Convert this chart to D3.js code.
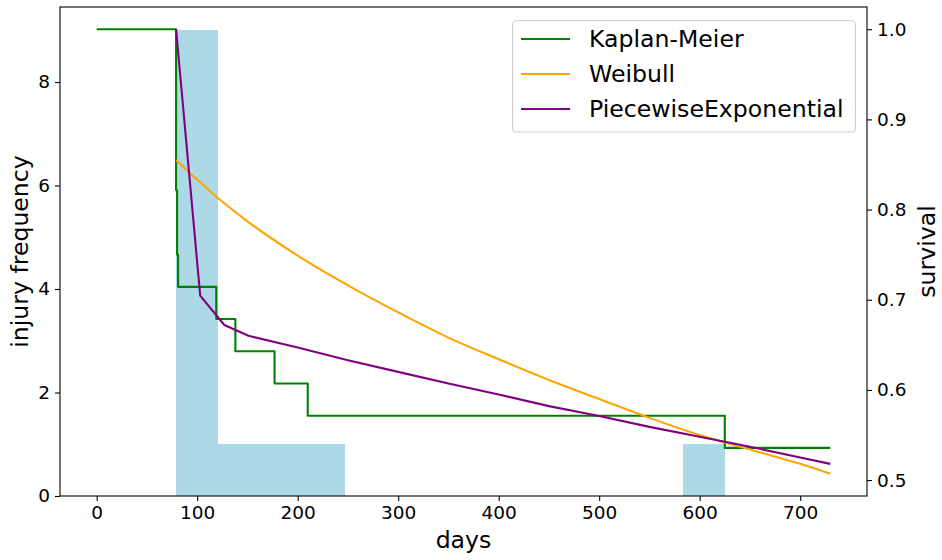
<!DOCTYPE html>
<html>
<head>
<meta charset="utf-8">
<script src="https://cdn.jsdelivr.net/npm/d3@7"></script>
<style>
  html, body { margin: 0; padding: 0; background: #fff; }
  svg { display: block; font-family: "DejaVu Sans", sans-serif; }
</style>
</head>
<body>
<svg id="chart" width="942" height="560"></svg>
<script>
// Injury histogram: bin edges (days) and counts per bin
const binEdges = [79, 121, 163, 205, 247, 289, 331, 373, 415, 457, 499, 541, 583, 625];
const binCounts = [9, 1, 1, 1, 0, 0, 0, 0, 0, 0, 0, 0, 1];

// Kaplan-Meier survival estimate (step function)
const kmDays = [0, 79, 80, 81, 119, 138, 177, 210, 625, 730];
const kmSurvival = [1.0, 0.8214, 0.75, 0.7143, 0.6786, 0.6429, 0.6071, 0.5714, 0.5357, 0.5357];

// Weibull model survival
const weibullDays = [79, 100, 121, 150, 200, 250, 300, 350, 400, 450, 500, 550, 600, 650, 700, 730];
const weibullSurvival = [0.855, 0.833, 0.8125, 0.787, 0.749, 0.716, 0.686, 0.658, 0.634, 0.611, 0.590, 0.569, 0.550, 0.534, 0.518, 0.507];

// Piecewise exponential model survival
const pweDays = [79, 103, 127, 151, 200, 250, 300, 350, 400, 450, 500, 550, 600, 650, 700, 730];
const pweSurvival = [1.0, 0.7045, 0.672, 0.660, 0.647, 0.633, 0.620, 0.607, 0.595, 0.582, 0.571, 0.559, 0.548, 0.537, 0.525, 0.518];

// Tick values
const xTicks = [0, 100, 200, 300, 400, 500, 600, 700];
const leftTicks = [0, 2, 4, 6, 8];
const rightTicks = [0.5, 0.6, 0.7, 0.8, 0.9, 1.0];

const series = [
  { name: "Kaplan-Meier", days: kmDays, values: kmSurvival, color: "green", curve: d3.curveStepAfter },
  { name: "Weibull", days: weibullDays, values: weibullSurvival, color: "orange", curve: d3.curveMonotoneX },
  { name: "PiecewiseExponential", days: pweDays, values: pweSurvival, color: "purple", curve: d3.curveLinear }
];

const plot = { left: 60, right: 867, top: 7, bottom: 496 };
const svg = d3.select("#chart");

// Padded domains (5% margin on each side)
function padded(lo, hi, f) { const r = hi - lo; return [lo - r * f, hi + r * f]; }
const allDays = [...kmDays, ...weibullDays, ...pweDays];
const allSurv = [...kmSurvival, ...weibullSurvival, ...pweSurvival];

const x = d3.scaleLinear()
  .domain(padded(d3.min(allDays), d3.max(allDays), 0.05))
  .range([plot.left, plot.right]);
const yLeft = d3.scaleLinear()
  .domain([0, d3.max(binCounts) * 1.05])
  .range([plot.bottom, plot.top]);
const yRight = d3.scaleLinear()
  .domain(padded(d3.min(allSurv), d3.max(allSurv), 0.05))
  .range([plot.bottom, plot.top]);

// Histogram bars
const bins = binCounts.map((c, i) => ({ x0: binEdges[i], x1: binEdges[i + 1], count: c }));
svg.append("g").selectAll("rect")
  .data(bins.filter(b => b.count > 0))
  .join("rect")
  .attr("x", d => x(d.x0))
  .attr("width", d => x(d.x1) - x(d.x0))
  .attr("y", d => yLeft(d.count))
  .attr("height", d => yLeft(0) - yLeft(d.count))
  .attr("fill", "#add8e6")
  .attr("shape-rendering", "crispEdges");

// Survival curves
const lines = svg.append("g");
series.forEach(s => {
  const pts = s.days.map((d, i) => [d, s.values[i]]);
  const gen = d3.line().x(p => x(p[0])).y(p => yRight(p[1])).curve(s.curve);
  lines.append("path")
    .attr("d", gen(pts))
    .attr("fill", "none")
    .attr("stroke", s.color)
    .attr("stroke-width", 2.1)
    .attr("stroke-linejoin", "round");
});

// Axes
const tickFont = "18.5px";
function styleAxis(g) {
  g.select(".domain").remove();
  g.selectAll(".tick line").attr("stroke", "#000").attr("stroke-width", 1.1);
  g.selectAll(".tick text").attr("fill", "#000").style("font-size", tickFont)
    .style("font-family", "DejaVu Sans, sans-serif");
}
svg.append("g")
  .attr("transform", `translate(0,${plot.bottom})`)
  .call(d3.axisBottom(x).tickValues(xTicks).tickSize(5).tickPadding(5).tickSizeOuter(0))
  .call(styleAxis);
svg.append("g")
  .attr("transform", `translate(${plot.left},0)`)
  .call(d3.axisLeft(yLeft).tickValues(leftTicks).tickSize(5).tickPadding(5).tickSizeOuter(0))
  .call(styleAxis);
svg.append("g")
  .attr("transform", `translate(${plot.right},0)`)
  .call(d3.axisRight(yRight).tickValues(rightTicks).tickFormat(d3.format(".1f")).tickSize(5).tickPadding(5).tickSizeOuter(0))
  .call(styleAxis);

// Frame
svg.append("rect")
  .attr("x", plot.left).attr("y", plot.top)
  .attr("width", plot.right - plot.left).attr("height", plot.bottom - plot.top)
  .attr("fill", "none").attr("stroke", "#000").attr("stroke-width", 1.1);

// Axis titles
const labelFont = "23.6px";
const midY = (plot.top + plot.bottom) / 2;
svg.append("text")
  .attr("x", (plot.left + plot.right) / 2).attr("y", 548)
  .attr("text-anchor", "middle").style("font-size", labelFont)
  .text("days");
svg.append("text")
  .attr("transform", `translate(28,${midY}) rotate(-90)`)
  .attr("text-anchor", "middle").style("font-size", labelFont)
  .text("injury frequency");
svg.append("text")
  .attr("transform", `translate(935,${midY}) rotate(-90)`)
  .attr("text-anchor", "middle").style("font-size", labelFont)
  .text("survival");

// Legend
const legend = svg.append("g");
legend.append("rect")
  .attr("x", 512.5).attr("y", 20.5).attr("width", 343).attr("height", 111.5)
  .attr("rx", 4).attr("fill", "#fff").attr("fill-opacity", 0.8)
  .attr("stroke", "#cccccc").attr("stroke-width", 1.1);
series.forEach((s, i) => {
  const yy = 39 + i * 35;
  legend.append("line")
    .attr("x1", 521).attr("x2", 570).attr("y1", yy).attr("y2", yy)
    .attr("stroke", s.color).attr("stroke-width", 2.1);
  legend.append("text")
    .attr("x", 589).attr("y", yy).attr("dy", "0.36em")
    .style("font-size", labelFont)
    .text(s.name);
});
</script>
</body>
</html>
